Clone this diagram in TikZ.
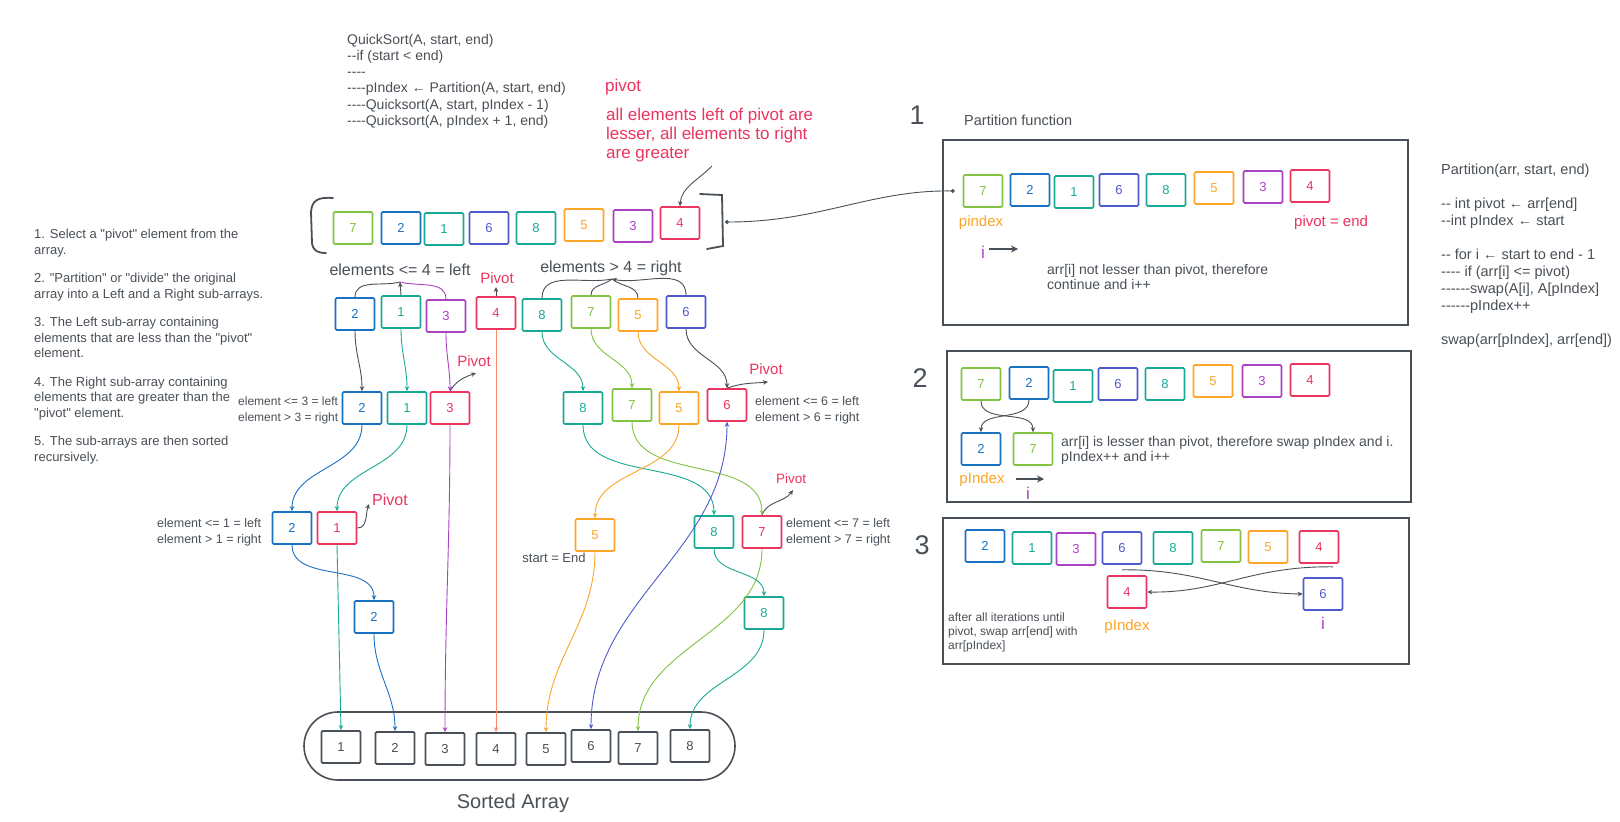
\documentclass[tikz,border=0pt]{standalone}
\usepackage{fontspec}
\setmainfont{Liberation Sans}[Ligatures=TeXOff]
\usetikzlibrary{arrows.meta}
\definecolor{cgray}{RGB}{73,80,87}
\definecolor{cgreen}{RGB}{130,195,65}
\definecolor{cblue}{RGB}{25,113,194}
\definecolor{cteal}{RGB}{25,170,150}
\definecolor{cindigo}{RGB}{80,90,205}
\definecolor{corange}{RGB}{252,165,40}
\definecolor{cpurple}{RGB}{170,65,195}
\definecolor{cred}{RGB}{236,52,96}
\definecolor{csalmon}{RGB}{250,140,100}
\newcommand\myfs[2]{\fontsize{#1}{#2}\selectfont}
\begin{document}
\begin{tikzpicture}[x=1pt,y=1pt,
  cell/.style={draw=#1, text=#1, line width=1.6pt, minimum width=39pt, minimum height=32pt, inner sep=0pt, rounded corners=1.2pt, font=\myfs{13}{13}},
  scell/.style={cell=cgray, line width=1.8pt},
  txt/.style={text=cgray, inner sep=0pt},
  ctxt/.style={text=#1, inner sep=0pt},
  lk/.style={draw=#1, line width=0.9pt, -{Stealth[length=5pt,width=4.5pt]}},
  lkboth/.style={draw=#1, line width=0.9pt, {Stealth[length=5pt,width=4.5pt]}-{Stealth[length=5pt,width=4.5pt]}},
  pl/.style={draw=#1, line width=0.9pt},
  frame/.style={draw=cgray, line width=1.4pt},
  iarrow/.style={draw=cgray, line width=2pt, -{Stealth[length=7pt,width=7pt]}}
]
\fill[white] (0,0) rectangle (1620,-822);
\useasboundingbox (0,0) rectangle (1620,-822);

% ---------- top-left code ----------
\node[txt, anchor=north west, align=left, font=\myfs{14}{16.2}] (code) at (347,-34)
 {QuickSort(A, start, end)\\--if (start < end)\\----\\----pIndex ← Partition(A, start, end)\\----Quicksort(A, start, pIndex - 1)\\----Quicksort(A, pIndex + 1, end)};

% ---------- pivot annotation ----------
\node[ctxt=cred, anchor=west, font=\myfs{17}{17}] (pvh) at (605,-87) {pivot};
\node[ctxt=cred, anchor=north west, align=left, font=\myfs{17}{19}] (pvd) at (606,-108)
 {all elements left of pivot are\\lesser, all elements to right\\are greater};

% ---------- left steps ----------
\node[txt, anchor=north west, align=left, font=\myfs{13}{15.5}] (steps) at (34,-229)
 {1. Select a "pivot" element from the\\array.\\[13pt]
  2. "Partition" or "divide" the original\\array into a Left and a Right sub-arrays.\\[13pt]
  3. The Left sub-array containing\\elements that are less than the "pivot"\\element.\\[13pt]
  4. The Right sub-array containing\\elements that are greater than the\\"pivot" element.\\[13pt]
  5. The sub-arrays are then sorted\\recursively.};

% ---------- main array ----------
\draw[cgray, line width=1.8pt, line cap=round] (333,-198) .. controls (318,-197) and (312,-200) .. (311,-212) -- (312,-243) .. controls (313,-251) and (318,-253) .. (326,-253);
\draw[cgray, line width=1.8pt, line cap=round] (700,-194) -- (722,-195) -- (723,-246) -- (707,-249);
\node[cell=cgreen]  (m7) at (353,-228) {7};
\node[cell=cblue]   (m2) at (401,-228) {2};
\node[cell=cteal]   (m1) at (444,-229) {1};
\node[cell=cindigo] (m6) at (489,-228) {6};
\node[cell=cteal]   (m8) at (536,-228) {8};
\node[cell=corange] (m5) at (584,-225) {5};
\node[cell=cpurple] (m3) at (633,-226) {3};
\node[cell=cred]    (m4) at (680,-223) {4};
\coordinate (pvs) at (712,-166);
\draw[lk=cgray] (pvs) .. controls (698,-180) and (681,-188) .. (m4.north);

% ---------- level 2 ----------
\node[txt, font=\myfs{16}{16}] (ll) at (400,-270) {elements <= 4 = left};
\node[txt, font=\myfs{16}{16}] (rl) at (611,-268) {elements > 4 = right};
\node[ctxt=cred, font=\myfs{15}{15}] (pv1) at (497,-278) {Pivot};
\node[cell=cblue]   (a2) at (355,-314) {2};
\node[cell=cteal]   (a1) at (401,-312) {1};
\node[cell=cpurple] (a3) at (446,-316) {3};
\node[cell=cred]    (a4) at (496,-313) {4};
\node[cell=cteal]   (a8) at (542,-315) {8};
\node[cell=cgreen]  (a7) at (591,-312) {7};
\node[cell=corange] (a5) at (638,-315) {5};
\node[cell=cindigo] (a6) at (686,-312) {6};
\coordinate (lt) at (400,-282);
\coordinate (rt) at (612,-279);
\coordinate (pv1t) at (496,-287);
\draw[pl=cgray] (a2.north) to[out=90,in=195] (lt);
\draw[lk=cgray] (a1.north) -- (lt);
\draw[pl=cpurple] (a3.north) to[out=90,in=-15] (lt);
\draw[pl=cgray] (a8.north) to[out=90,in=192] (rt);
\draw[pl=cgray] (a7.north) to[out=90,in=220] (rt);
\draw[pl=cgray] (a5.north) to[out=90,in=-40] (rt);
\draw[lk=cgray] (a6.north) to[out=90,in=-12] (rt);
\draw[lk=cgray] (a4.north) -- (pv1t);

% ---------- level 3 ----------
\node[cell=cblue]   (b2) at (362,-408) {2};
\node[cell=cteal]   (b1) at (407,-408) {1};
\node[cell=cred]    (b3) at (450,-408) {3};
\node[cell=cteal]   (b8) at (583,-408) {8};
\node[cell=cgreen]  (b7) at (632,-405) {7};
\node[cell=corange] (b5) at (679,-408) {5};
\node[cell=cred]    (b6) at (727,-405) {6};
\node[txt, anchor=west, align=left, font=\myfs{12}{16}] (lb3) at (238,-410) {element <= 3 = left\\element > 3 = right};
\node[txt, anchor=west, align=left, font=\myfs{12.5}{16}] (lb6) at (755,-410) {element <= 6 = left\\element > 6 = right};
\node[ctxt=cred, font=\myfs{15}{15}] (pv2) at (474,-361) {Pivot};
\node[ctxt=cred, font=\myfs{15}{15}] (pv3) at (766,-369) {Pivot};
\coordinate (pv2t) at (476,-373);
\coordinate (pv3t) at (768,-382);
\draw[lk=cgray] (b3.north) to[out=60,in=200] (pv2t);
\draw[lk=cgray] (b6.north) to[out=20,in=185] (pv3t);

\draw[lk=cgray]    (a2.south) to[out=-90,in=90] (b2.north);
\draw[lk=cteal]    (a1.south) to[out=-90,in=90] (b1.north);
\draw[lk=cpurple]  (a3.south) to[out=-90,in=90] (b3.north);
\draw[lk=cteal]    (a8.south) to[out=-90,in=90] (b8.north);
\draw[lk=cgreen]   (a7.south) to[out=-90,in=90] (b7.north);
\draw[lk=corange]  (a5.south) to[out=-90,in=90] (b5.north);
\draw[lk=cgray]    (a6.south) to[out=-90,in=90] (b6.north);

% ---------- level 4 ----------
\node[cell=cblue]   (c2) at (292,-528) {2};
\node[cell=cred]    (c1) at (337,-528) {1};
\node[cell=corange] (c5) at (595,-535) {5};
\node[cell=cteal]   (c8) at (714,-532) {8};
\node[cell=cred]    (c7) at (762,-532) {7};
\node[txt, anchor=west, align=left, font=\myfs{12.5}{16}] (lc1) at (157,-532) {element <= 1 = left\\element > 1 = right};
\node[txt, anchor=west, align=left, font=\myfs{12.5}{16}] (lc7) at (786,-532) {element <= 7 = left\\element > 7 = right};
\node[txt, font=\myfs{13}{13}] (se) at (554,-558) {start = End};
\node[ctxt=cred, font=\myfs{16}{16}] (pv4) at (390,-500) {Pivot};
\node[ctxt=cred, font=\myfs{13.5}{13.5}] (pv5) at (791,-479) {Pivot};
\coordinate (pv4t) at (369,-504);
\coordinate (pv5t) at (793,-490);
\draw[lk=cgray] (c1.east) to[out=0,in=-110] (pv4t);
\draw[lk=cgray] (c7.north) to[out=70,in=235] (pv5t);

\draw[lk=cblue]    (b2.south) to[out=-90,in=90] (c2.north);
\draw[lk=cteal]    (b1.south) to[out=-90,in=90] (c1.north);
\draw[lk=cteal]    (b8.south) to[out=-90,in=90] (c8.north);
\draw[lk=cgreen]   (b7.south) to[out=-90,in=90] (c7.north);
\draw[lk=corange]  (b5.south) to[out=-90,in=90] (c5.north);

% ---------- level 5 ----------
\node[cell=cblue] (d2) at (374,-617) {2};
\node[cell=cteal] (d8) at (764,-613) {8};
\draw[lk=cblue] (c2.south) to[out=-90,in=90] (d2.north);
\draw[lk=cteal] (c8.south) to[out=-90,in=90] (d8.north);

% ---------- sorted array ----------
\draw[cgray, line width=1.6pt, rounded corners=34pt] (304,-712) rectangle (735,-780);
\node[scell] (s1) at (341,-747) {1};
\node[scell] (s2) at (395,-748) {2};
\node[scell] (s3) at (445,-749) {3};
\node[scell] (s4) at (496,-749) {4};
\node[scell] (s5) at (546,-749) {5};
\node[scell] (s6) at (591,-746) {6};
\node[scell] (s7) at (638,-748) {7};
\node[scell] (s8) at (690,-746) {8};
\node[txt, font=\myfs{20}{20}] (sa) at (513,-803) {Sorted Array};

\draw[lk=cteal]    (c1.south) -- (s1.north);
\draw[lk=cblue]    (d2.south) to[out=-90,in=90] (s2.north);
\draw[lk=cpurple]  (b3.south) to[out=-90,in=90] (s3.north);
\draw[lk=csalmon]  (a4.south) -- (s4.north);
\draw[lk=corange]  (c5.south) to[out=-90,in=90] (s5.north);
\draw[lkboth=cindigo] (b6.south) to[out=-90,in=90] (s6.north);
\draw[lk=cgreen]   (c7.south) to[out=-90,in=90] (s7.north);
\draw[lk=cteal]    (d8.south) to[out=-90,in=90] (s8.north);

% ---------- partition 1 ----------
\node[txt, font=\myfs{27}{27}] (n1) at (917,-115) {1};
\node[txt, anchor=west, font=\myfs{14.5}{14.5}] (pf) at (964,-120) {Partition function};
\draw[frame] (943,-140) rectangle (1408,-325);
\node[cell=cgreen]  (p1a) at (983,-191) {7};
\node[cell=cblue]   (p1b) at (1030,-190) {2};
\node[cell=cteal]   (p1c) at (1074,-192) {1};
\node[cell=cindigo] (p1d) at (1119,-190) {6};
\node[cell=cteal]   (p1e) at (1166,-190) {8};
\node[cell=corange] (p1f) at (1214,-188) {5};
\node[cell=cpurple] (p1g) at (1263,-187) {3};
\node[cell=cred]    (p1h) at (1310,-186) {4};
\node[ctxt=corange, font=\myfs{15}{15}] (pix1) at (981,-223) {pindex};
\node[ctxt=cred, anchor=west, font=\myfs{15}{15}] (pve) at (1294,-223) {pivot = end};
\node[ctxt=cpurple, font=\myfs{17}{17}] (i1) at (983,-252) {i};
\coordinate (i1s) at (989,-249);
\coordinate (i1e) at (1018,-249);
\draw[iarrow] (i1s) -- (i1e);
\node[txt, anchor=north west, align=left, font=\myfs{14}{15}] (t1) at (1047,-264) {arr[i] not lesser than pivot, therefore\\continue and i++};
\coordinate (brR) at (725,-222);
\draw[cgray, line width=0.9pt, {Circle[length=4pt]}-{Circle[length=4pt]}] (brR) .. controls (820,-222) and (870,-190) .. ([xshift=-8pt]p1a.west);

% ---------- partition 2 ----------
\node[txt, font=\myfs{27}{27}] (n2) at (920,-378) {2};
\draw[frame] (947,-351) rectangle (1411,-502);
\node[cell=cgreen]  (q7) at (981,-384) {7};
\node[cell=cblue]   (q2) at (1029,-383) {2};
\node[cell=cteal]   (q1) at (1073,-386) {1};
\node[cell=cindigo] (q6) at (1118,-384) {6};
\node[cell=cteal]   (q8) at (1165,-384) {8};
\node[cell=corange] (q5) at (1213,-381) {5};
\node[cell=cpurple] (q3) at (1262,-381) {3};
\node[cell=cred]    (q4) at (1310,-380) {4};
\node[cell=cblue]   (t2) at (981,-449) {2};
\node[cell=cgreen]  (t7) at (1033,-449) {7};
\draw[lk=cgray] (q7.south) to[out=-90,in=90] (t7.north);
\draw[lk=cgray] (q2.south) to[out=-90,in=90] (t2.north);
\node[txt, anchor=north west, align=left, font=\myfs{14}{15}] (t2txt) at (1061,-436) {arr[i] is lesser than pivot, therefore swap pIndex and i.\\pIndex++ and i++};
\node[ctxt=corange, font=\myfs{15}{15}] (pix2) at (982,-480) {pIndex};
\coordinate (i2s) at (1016,-479);
\coordinate (i2e) at (1044,-479);
\draw[iarrow] (i2s) -- (i2e);
\node[ctxt=cpurple, font=\myfs{17}{17}] (i2) at (1028,-493) {i};

% ---------- partition 3 ----------
\node[txt, font=\myfs{27}{27}] (n3) at (922,-545) {3};
\draw[frame] (943,-518) rectangle (1409,-664);
\node[cell=cblue]   (r2) at (985,-546) {2};
\node[cell=cteal]   (r1) at (1032,-548) {1};
\node[cell=cpurple] (r3) at (1076,-549) {3};
\node[cell=cindigo] (r6) at (1122,-548) {6};
\node[cell=cteal]   (r8) at (1173,-548) {8};
\node[cell=cgreen]  (r7) at (1221,-546) {7};
\node[cell=corange] (r5) at (1268,-547) {5};
\node[cell=cred]    (r4) at (1319,-547) {4};
\node[cell=cred]    (u4) at (1127,-592) {4};
\node[cell=cindigo] (u6) at (1323,-594) {6};
\draw[lk=cgray] ([yshift=-5pt]r6.south) .. controls (1200,-569) and (1230,-593) .. (u6.west);
\draw[lk=cgray] ([xshift=14pt,yshift=-3pt]r4.south) .. controls (1250,-566) and (1220,-593) .. (u4.east);
\node[ctxt=corange, font=\myfs{15}{15}] (pix3) at (1127,-627) {pIndex};
\node[ctxt=cpurple, font=\myfs{17}{17}] (i3) at (1323,-623) {i};
\node[txt, anchor=north west, align=left, font=\myfs{12}{14}] (t3) at (948,-613) {after all iterations until\\pivot, swap arr[end] with\\arr[pIndex]};

% ---------- right code ----------
\node[txt, anchor=north west, align=left, font=\myfs{14.5}{17}] (pcode) at (1441,-164)
 {Partition(arr, start, end)\\[17pt]-- int pivot ← arr[end]\\--int pIndex ← start\\[17pt]-- for i ← start to end - 1\\---- if (arr[i] <= pivot)\\------swap(A[i], A[pIndex]\\------pIndex++\\[17pt]swap(arr[pIndex], arr[end])};
\end{tikzpicture}
\end{document}
